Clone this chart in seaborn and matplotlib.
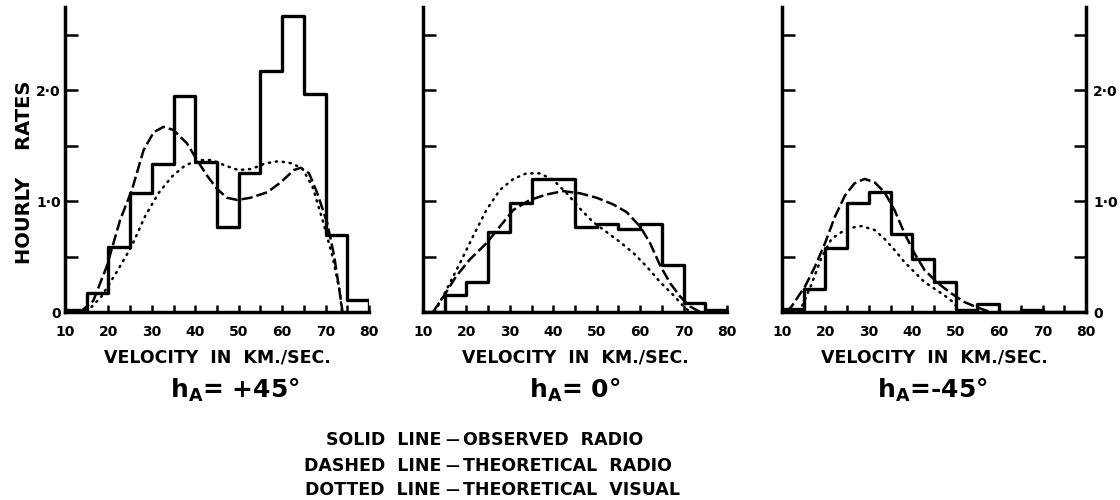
import matplotlib
matplotlib.use("Agg")
import matplotlib.pyplot as plt
import seaborn as sns

sns.set_style("ticks")
plt.rcParams["font.family"] = ["DejaVu Sans"]
plt.rcParams["font.weight"] = "bold"
plt.rcParams["text.color"] = "black"
plt.rcParams["axes.labelcolor"] = "black"
plt.rcParams["mathtext.fontset"] = "dejavusans"
plt.rcParams["mathtext.default"] = "bf"

# ===== DATA =====
bin_edges = [10, 15, 20, 25, 30, 35, 40, 45, 50, 55, 60, 65, 70, 75, 80, 85]
bin_mids = [12.5, 17.5, 22.5, 27.5, 32.5, 37.5, 42.5, 47.5, 52.5, 57.5, 62.5, 67.5, 72.5, 77.5]

# observed radio hourly rates (solid histogram)
obs_p45 = [0.02, 0.17, 0.585, 1.07, 1.33, 1.95, 1.35, 0.77, 1.25, 2.17, 2.67, 1.97, 0.69, 0.11]
obs_0 = [0.0, 0.15, 0.27, 0.72, 0.98, 1.20, 1.20, 0.77, 0.79, 0.75, 0.79, 0.42, 0.08, 0.02]
obs_m45 = [0.03, 0.21, 0.58, 0.98, 1.08, 0.70, 0.48, 0.27, 0.02, 0.07, 0.0, 0.015, 0.0, 0.0]

# theoretical radio (dashed)
dash_p45_x = [13.5, 16.5, 19.6, 22.7, 25.4, 28.1, 30.4, 32.7, 35.0, 38.1, 40.4, 42.7, 45.0,
              47.3, 49.7, 52.7, 56.6, 59.7, 62.7, 64.3, 66.2, 68.1, 70.4, 72.0, 73.4, 73.9]
dash_p45_y = [0.0, 0.10, 0.41, 0.83, 1.10, 1.46, 1.62, 1.67, 1.64, 1.52, 1.37, 1.23, 1.11,
              1.03, 1.01, 1.03, 1.08, 1.17, 1.28, 1.30, 1.25, 1.07, 0.80, 0.50, 0.14, 0.0]
dash_0_x = [12.3, 14.9, 17.6, 20.7, 24.6, 27.7, 30.8, 34.6, 38.5, 42.3, 46.2, 50.0, 53.8,
            56.9, 60.0, 62.3, 64.6, 66.9, 69.2, 71.5, 73.8]
dash_0_y = [0.0, 0.15, 0.32, 0.47, 0.62, 0.77, 0.92, 1.01, 1.06, 1.09, 1.07, 1.03, 0.97,
            0.90, 0.77, 0.62, 0.42, 0.26, 0.14, 0.05, 0.0]
dash_m45_x = [11.0, 12.2, 15.3, 17.6, 19.9, 22.2, 24.5, 26.7, 29.0, 31.3, 33.6, 35.9, 38.2,
              40.5, 42.8, 45.9, 48.9, 52.0, 55.0, 58.0]
dash_m45_y = [0.0, 0.05, 0.23, 0.41, 0.62, 0.86, 1.05, 1.16, 1.20, 1.17, 1.08, 0.92, 0.71,
              0.53, 0.38, 0.26, 0.17, 0.09, 0.04, 0.0]

# theoretical visual (dotted)
dot_p45_x = [15.0, 18.4, 22.2, 25.3, 28.4, 31.5, 34.6, 37.6, 40.7, 43.8, 46.9, 49.9, 53.0,
             56.1, 59.2, 62.3, 64.7, 67.0, 69.3, 71.6, 73.2, 73.8]
dot_p45_y = [0.0, 0.14, 0.38, 0.59, 0.86, 1.07, 1.22, 1.32, 1.37, 1.37, 1.32, 1.28, 1.29,
             1.34, 1.36, 1.34, 1.29, 1.13, 0.83, 0.50, 0.20, 0.0]
dot_0_x = [12.7, 15.4, 18.5, 21.5, 24.6, 27.7, 30.8, 33.8, 36.9, 40.0, 43.1, 46.2, 49.2,
           52.3, 55.4, 58.5, 61.5, 64.6, 67.7, 70.0, 71.5]
dot_0_y = [0.0, 0.20, 0.44, 0.68, 0.92, 1.10, 1.20, 1.25, 1.25, 1.19, 1.07, 0.93, 0.81,
           0.72, 0.63, 0.53, 0.41, 0.27, 0.15, 0.05, 0.0]
dot_m45_x = [14.0, 16.5, 19.0, 21.4, 23.7, 26.0, 28.3, 31.3, 33.6, 35.9, 38.2, 40.5, 42.8,
             45.1, 47.4, 49.7, 50.8]
dot_m45_y = [0.0, 0.22, 0.48, 0.66, 0.72, 0.76, 0.775, 0.74, 0.66, 0.56, 0.45, 0.36, 0.27,
             0.21, 0.15, 0.08, 0.0]

panel_titles = [r"$h_A$= +45°", r"$h_A$= 0°", r"$h_A$=-45°"]
xtick_vals = [10, 20, 30, 40, 50, 60, 70, 80]
ytick_vals = [0, 1, 2]
ytick_labels = ["0", "1·0", "2·0"]

panels = [
    (obs_p45, dash_p45_x, dash_p45_y, dot_p45_x, dot_p45_y),
    (obs_0, dash_0_x, dash_0_y, dot_0_x, dot_0_y),
    (obs_m45, dash_m45_x, dash_m45_y, dot_m45_x, dot_m45_y),
]

W, H = 1120, 500
fig = plt.figure(figsize=(11.2, 5), dpi=100)

lefts = [65, 423, 782]
pw = 304
top, bottom = 7, 312
title_x = [235, 575, 932]

for i, (obs, dx, dy, tx, ty) in enumerate(panels):
    ax = fig.add_axes([lefts[i] / W, 1 - bottom / H, pw / W, (bottom - top) / H])
    sns.histplot(x=bin_mids, weights=obs, bins=bin_edges, element="step", fill=False,
                 color="black", linewidth=2.4, ax=ax)
    sns.lineplot(x=dx, y=dy, sort=False, estimator=None, color="black", linewidth=1.8,
                 linestyle=(0, (4.5, 1.6)), ax=ax)
    sns.lineplot(x=tx, y=ty, sort=False, estimator=None, color="black", linewidth=1.8,
                 linestyle=(0, (0.5, 2.3)), dash_capstyle="round", ax=ax)

    ax.set_xlim(10, 80)
    ax.set_ylim(0, 2.75)
    ax.set_xlabel("")
    ax.set_ylabel("")
    ax.set_xticks(xtick_vals)
    ax.set_xticklabels([str(v) for v in xtick_vals])
    ax.set_xticks([15, 25, 35, 45, 55, 65, 75], minor=True)
    ax.set_yticks(ytick_vals)
    ax.set_yticklabels(ytick_labels)
    ax.set_yticks([0.5, 1.5, 2.5], minor=True)
    ax.tick_params(axis="x", which="both", direction="in", length=5, width=1.8,
                   pad=9, labelsize=10, colors="black")
    ax.tick_params(axis="y", which="both", direction="in", length=9, width=1.8,
                   pad=3, labelsize=10, colors="black")
    for s in ["left", "bottom", "right"]:
        ax.spines[s].set_linewidth(2.5)
        ax.spines[s].set_color("black")
    ax.spines["top"].set_visible(False)
    if i == 2:
        ax.spines["right"].set_visible(True)
        ax.tick_params(axis="y", which="both", right=True, labelright=True, labelleft=False, pad=5)
    else:
        ax.spines["right"].set_visible(False)
    if i == 1:
        ax.tick_params(axis="y", labelleft=False)

    fig.text((lefts[i] + pw / 2) / W, 1 - 357 / H, "VELOCITY  IN  KM./SEC.",
             ha="center", va="center", fontsize=12.5, fontweight="bold")
    fig.text(title_x[i] / W, 1 - 390 / H, panel_titles[i],
             ha="center", va="center", fontsize=18, fontweight="bold")

fig.text(25 / W, 1 - 172 / H, "HOURLY    RATES", rotation=90, ha="center", va="center",
         fontsize=14, fontweight="bold")

legend_rows = [("SOLID  LINE", "OBSERVED  RADIO", 440),
               ("DASHED  LINE", "THEORETICAL  RADIO", 466),
               ("DOTTED  LINE", "THEORETICAL  VISUAL", 490)]
for left_txt, right_txt, y in legend_rows:
    fig.text(441 / W, 1 - y / H, left_txt, ha="right", va="center", fontsize=12.5, fontweight="bold")
    fig.text(452 / W, 1 - y / H, "—", ha="center", va="center", fontsize=10, fontweight="bold")
    fig.text(463 / W, 1 - y / H, right_txt, ha="left", va="center", fontsize=12.5, fontweight="bold")

fig.savefig("out.png", dpi=100)
